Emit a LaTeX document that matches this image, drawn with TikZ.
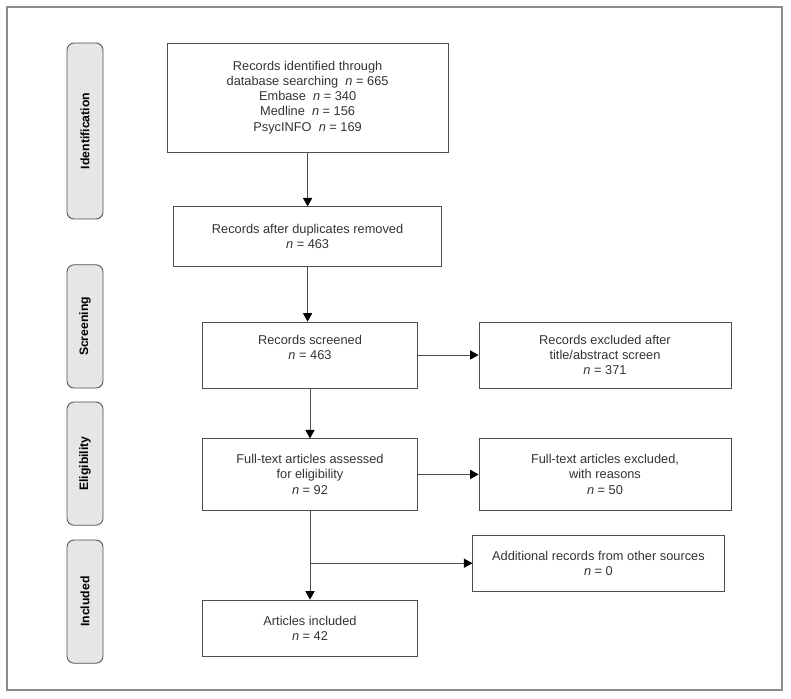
\documentclass[tikz,border=0pt]{standalone}
\usepackage{fontspec}
\setmainfont{Liberation Sans}
\usepackage{tikz}
\usetikzlibrary{arrows.meta}

\definecolor{txtgray}{HTML}{333333}
\definecolor{linegray}{HTML}{4D4D4D}
\definecolor{phasefill}{HTML}{E6E6E6}
\definecolor{framegray}{HTML}{8C8C8C}

\begin{document}
\begin{tikzpicture}[
    box/.style={draw=linegray, line width=0.6pt, rectangle,
        align=center, text=txtgray,
        font=\fontsize{9.1pt}{10.7pt}\selectfont},
    phase/.style={draw=linegray, line width=0.6pt, rectangle,
        rounded corners=5pt, fill=phasefill, rotate=90,
        minimum height=0.9cm, text=black,
        font=\fontsize{8.7pt}{10pt}\selectfont\bfseries},
    flow/.style={draw=linegray, line width=0.6pt,
        -{Triangle[length=6pt,width=6.5pt,color=black]}}
    ]

    \useasboundingbox (0,0) rectangle (19.775,-17.45);
    \draw[framegray, line width=0.9pt] (0.175,-0.175) rectangle (19.55,-17.25);

    % phases
    \node[phase, minimum width=4.4cm] (p1) at (2.125,-3.275) {Identification};
    \node[phase, minimum width=3.08cm] (p2) at (2.125,-8.16) {Screening};
    \node[phase, minimum width=3.08cm] (p3) at (2.125,-11.59) {Eligibility};
    \node[phase, minimum width=3.08cm] (p4) at (2.125,-15.04) {Included};

    % boxes
    \node[box,
        minimum width=7.03cm,
        minimum height=2.73cm
        ] (n1) at (7.69,-2.44) {Records identified through\\
        database searching~~\textit{n} = 665\\
        Embase~~\textit{n} = 340\\
        Medline~~\textit{n} = 156\\
        PsycINFO~~\textit{n} = 169};

    \node[box,
        minimum width=6.7cm,
        minimum height=1.48cm
        ] (n2) at (7.69,-5.91) {Records after duplicates removed\\ \textit{n} = 463};

    \node[box,
        minimum width=5.38cm,
        minimum height=1.65cm
        ] (n3) at (7.75,-8.875) {Records screened\\ \textit{n} = 463\\ \mbox{}};

    \node[box,
        minimum width=6.3cm,
        minimum height=1.65cm
        ] (n4) at (15.125,-8.875) {Records excluded after\\ title/abstract screen\\ \textit{n} = 371};

    \node[box,
        minimum width=5.38cm,
        minimum height=1.78cm
        ] (n5) at (7.75,-11.86) {Full-text articles assessed\\ for eligibility\\ \textit{n} = 92};

    \node[box,
        minimum width=6.3cm,
        minimum height=1.78cm
        ] (n6) at (15.125,-11.86) {Full-text articles excluded,\\ with reasons\\ \textit{n} = 50};

    \node[box,
        minimum width=6.28cm,
        minimum height=1.4cm
        ] (n7) at (14.96,-14.08) {Additional records from other sources\\ \textit{n} = 0};

    \node[box,
        minimum width=5.38cm,
        minimum height=1.4cm
        ] (n8) at (7.75,-15.7) {Articles included\\ \textit{n} = 42};

    % arrows
    \draw[flow] (n1.south) -- (n2.north);
    \draw[flow] (n2.south) -- (n2.south |- n3.north);
    \draw[flow] (n3.east) -- (n4.west);
    \draw[flow] (n3.south) -- (n5.north);
    \draw[flow] (n5.east) -- (n6.west);
    \draw[flow] (n5.south) -- (n8.north);
    \coordinate (c1) at (n5.south |- n7.west);
    \draw[flow] (c1) -- (n7.west);

\end{tikzpicture}
\end{document}
